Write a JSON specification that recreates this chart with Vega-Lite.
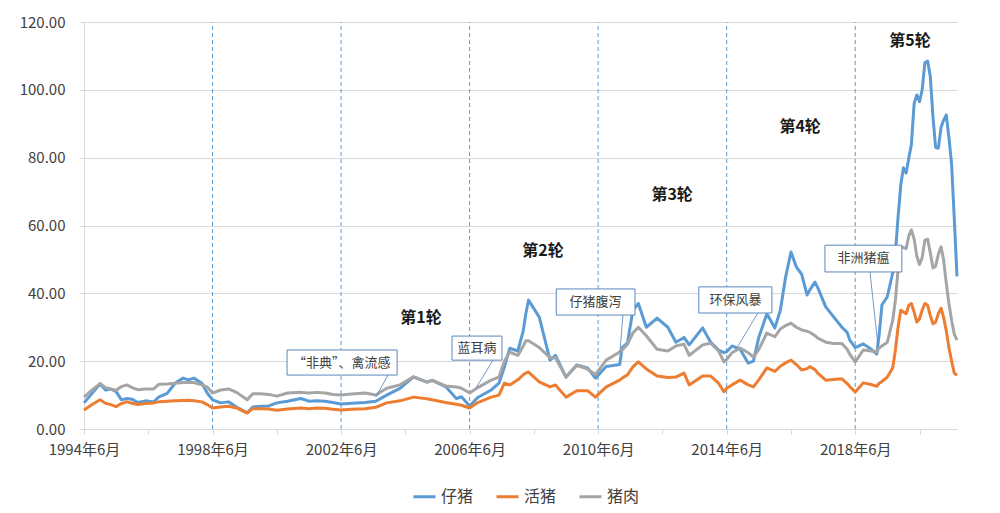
{
  "$schema": "https://vega.github.io/schema/vega-lite/v6.json",
  "width": 873,
  "height": 407,
  "autosize": "none",
  "padding": {"left": 84, "top": 22, "right": 43, "bottom": 84},
  "background": "white",
  "config": {
    "view": {"stroke": null},
    "font": "Noto Sans CJK SC",
    "axis": {"labelFont": "Noto Sans CJK SC", "labelFontSize": 15, "labelColor": "#404040", "domainColor": "#d9d9d9", "tickColor": "#d9d9d9", "gridColor": "#d9d9d9", "title": null},
    "legend": {"labelFont": "Noto Sans CJK SC"}
  },
  "encoding": {
    "x": {
      "field": "d", "type": "temporal",
      "scale": {"domain": [{"year": 1994, "month": 6, "date": 1}, {"year": 2021, "month": 8, "date": 1}]},
      "axis": {
        "grid": false, "tickSize": 5, "labelPadding": 8, "labelOverlap": false, "labelFlush": false,
        "values": [{"year": 1994, "month": 6, "date": 1}, {"year": 1996, "month": 6, "date": 1}, {"year": 1998, "month": 6, "date": 1}, {"year": 2000, "month": 6, "date": 1}, {"year": 2002, "month": 6, "date": 1}, {"year": 2004, "month": 6, "date": 1}, {"year": 2006, "month": 6, "date": 1}, {"year": 2008, "month": 6, "date": 1}, {"year": 2010, "month": 6, "date": 1}, {"year": 2012, "month": 6, "date": 1}, {"year": 2014, "month": 6, "date": 1}, {"year": 2016, "month": 6, "date": 1}, {"year": 2018, "month": 6, "date": 1}, {"year": 2020, "month": 6, "date": 1}],
        "labelExpr": "(year(datum.value) - 1994) % 4 == 0 ? timeFormat(datum.value, '%Y年%-m月') : ''"
      }
    },
    "y": {
      "field": "v", "type": "quantitative",
      "scale": {"domain": [0, 120], "nice": false},
      "axis": {"values": [0, 20, 40, 60, 80, 100, 120], "format": ".2f", "grid": true, "tickSize": 5, "labelPadding": 14}
    }
  },
  "layer": [
    {
      "data": {"values": [
        {"d": "1998-06-01", "v": 0, "v2": 120},
        {"d": "2002-06-01", "v": 0, "v2": 120},
        {"d": "2006-06-01", "v": 0, "v2": 120},
        {"d": "2010-06-01", "v": 0, "v2": 120},
        {"d": "2014-06-01", "v": 0, "v2": 120},
        {"d": "2018-06-01", "v": 0, "v2": 120}
      ], "format": {"parse": {"d": "date:'%Y-%m-%d'"}}},
      "mark": {"type": "rule", "stroke": "#5b9bd5", "strokeWidth": 1, "strokeDash": [4, 3]},
      "encoding": {"y2": {"field": "v2"}}
    },
    {
      "data": {"values": [
        {"d": "1994-06", "仔猪": 7.7, "活猪": 5.6, "猪肉": 9.4},
        {"d": "1994-09", "仔猪": 10.5, "活猪": 7.2, "猪肉": 11.5},
        {"d": "1994-12", "仔猪": 13.3, "活猪": 8.6, "猪肉": 13.4},
        {"d": "1995-02", "仔猪": 11.5, "活猪": 7.6, "猪肉": 12.2},
        {"d": "1995-04", "仔猪": 11.8, "活猪": 7.2, "猪肉": 11.8},
        {"d": "1995-06", "仔猪": 11, "活猪": 6.6, "猪肉": 11.4},
        {"d": "1995-08", "仔猪": 8.6, "活猪": 7.5, "猪肉": 12.5},
        {"d": "1995-10", "仔猪": 9, "活猪": 8, "猪肉": 13},
        {"d": "1995-12", "仔猪": 8.8, "活猪": 7.6, "猪肉": 12.2},
        {"d": "1996-02", "仔猪": 7.8, "活猪": 7.2, "猪肉": 11.6},
        {"d": "1996-05", "仔猪": 8.3, "活猪": 7.5, "猪肉": 11.8},
        {"d": "1996-08", "仔猪": 8, "活猪": 7.7, "猪肉": 11.8},
        {"d": "1996-10", "仔猪": 9.5, "活猪": 8, "猪肉": 13.2},
        {"d": "1997-01", "仔猪": 10.5, "活猪": 8.2, "猪肉": 13.3},
        {"d": "1997-04", "仔猪": 13.5, "活猪": 8.3, "猪肉": 13.5},
        {"d": "1997-07", "仔猪": 15, "活猪": 8.4, "猪肉": 13.7},
        {"d": "1997-09", "仔猪": 14.5, "活猪": 8.5, "猪肉": 13.7},
        {"d": "1997-11", "仔猪": 15, "活猪": 8.3, "猪肉": 13.7},
        {"d": "1998-02", "仔猪": 13.5, "活猪": 8, "猪肉": 13},
        {"d": "1998-04", "仔猪": 10.6, "活猪": 7.2, "猪肉": 12.4},
        {"d": "1998-06", "仔猪": 8.6, "活猪": 6.2, "猪肉": 10.6},
        {"d": "1998-09", "仔猪": 7.7, "活猪": 6.5, "猪肉": 11.5},
        {"d": "1998-12", "仔猪": 8, "活猪": 6.7, "猪肉": 11.8},
        {"d": "1999-03", "仔猪": 6.5, "活猪": 6.2, "猪肉": 10.8},
        {"d": "1999-07", "仔猪": 4.8, "活猪": 4.7, "猪肉": 8.6},
        {"d": "1999-09", "仔猪": 6.5, "活猪": 6, "猪肉": 10.4},
        {"d": "1999-12", "仔猪": 6.7, "活猪": 6, "猪肉": 10.4},
        {"d": "2000-03", "仔猪": 6.8, "活猪": 5.9, "猪肉": 10.2},
        {"d": "2000-06", "仔猪": 7.7, "活猪": 5.5, "猪肉": 9.7},
        {"d": "2000-10", "仔猪": 8.2, "活猪": 5.9, "猪肉": 10.6},
        {"d": "2001-03", "仔猪": 9, "活猪": 6.2, "猪肉": 10.8},
        {"d": "2001-06", "仔猪": 8.2, "活猪": 6, "猪肉": 10.6},
        {"d": "2001-09", "仔猪": 8.3, "活猪": 6.2, "猪肉": 10.8},
        {"d": "2001-12", "仔猪": 8.2, "活猪": 6.1, "猪肉": 10.6},
        {"d": "2002-03", "仔猪": 7.8, "活猪": 5.8, "猪肉": 10.2},
        {"d": "2002-06", "仔猪": 7.4, "活猪": 5.6, "猪肉": 10},
        {"d": "2002-10", "仔猪": 7.6, "活猪": 5.8, "猪肉": 10.3},
        {"d": "2003-03", "仔猪": 7.8, "活猪": 6, "猪肉": 10.6},
        {"d": "2003-07", "仔猪": 8.2, "活猪": 6.4, "猪肉": 10},
        {"d": "2003-11", "仔猪": 10, "活猪": 7.7, "猪肉": 12},
        {"d": "2004-04", "仔猪": 12, "活猪": 8.3, "猪肉": 13},
        {"d": "2004-09", "仔猪": 15.4, "活猪": 9.4, "猪肉": 15.4},
        {"d": "2005-02", "仔猪": 13.8, "活猪": 8.9, "猪肉": 13.8},
        {"d": "2005-04", "仔猪": 14.3, "活猪": 8.6, "猪肉": 14.4},
        {"d": "2005-09", "仔猪": 12.5, "活猪": 7.8, "猪肉": 12.7},
        {"d": "2006-01", "仔猪": 9, "活猪": 7.3, "猪肉": 12.4},
        {"d": "2006-03", "仔猪": 9.5, "活猪": 7, "猪肉": 12},
        {"d": "2006-06", "仔猪": 6.8, "活猪": 6.2, "猪肉": 10.6},
        {"d": "2006-09", "仔猪": 9.3, "活猪": 7.8, "猪肉": 12.2},
        {"d": "2007-02", "仔猪": 11.5, "活猪": 9.4, "猪肉": 14.4},
        {"d": "2007-05", "仔猪": 13.5, "活猪": 10, "猪肉": 15.3},
        {"d": "2007-07", "仔猪": 18.3, "活猪": 13.5, "猪肉": 20},
        {"d": "2007-09", "仔猪": 23.8, "活猪": 13, "猪肉": 22.7},
        {"d": "2007-12", "仔猪": 23, "活猪": 14.5, "猪肉": 21.7},
        {"d": "2008-02", "仔猪": 29, "活猪": 16, "猪肉": 24.5},
        {"d": "2008-03", "仔猪": 34, "活猪": 16.5, "猪肉": 26},
        {"d": "2008-04", "仔猪": 38, "活猪": 16.8, "猪肉": 26},
        {"d": "2008-08", "仔猪": 33, "活猪": 13.9, "猪肉": 24},
        {"d": "2008-12", "仔猪": 20.3, "活猪": 12.4, "猪肉": 21},
        {"d": "2009-02", "仔猪": 21.7, "活猪": 13, "猪肉": 21},
        {"d": "2009-06", "仔猪": 15.3, "活猪": 9.4, "猪肉": 15.3},
        {"d": "2009-10", "仔猪": 18.9, "活猪": 11.3, "猪肉": 18.8},
        {"d": "2010-02", "仔猪": 18, "活猪": 11.3, "猪肉": 17.7},
        {"d": "2010-05", "仔猪": 15, "活猪": 9.4, "猪肉": 16},
        {"d": "2010-09", "仔猪": 18.4, "活猪": 12.4, "猪肉": 20.3},
        {"d": "2011-02", "仔猪": 19, "活猪": 14.4, "猪肉": 22.7},
        {"d": "2011-03", "仔猪": 24, "活猪": 15, "猪肉": 23.3},
        {"d": "2011-05", "仔猪": 25.4, "活猪": 16, "猪肉": 25},
        {"d": "2011-07", "仔猪": 35, "活猪": 18.3, "猪肉": 28.3},
        {"d": "2011-09", "仔猪": 37, "活猪": 19.8, "猪肉": 30},
        {"d": "2011-12", "仔猪": 30, "活猪": 17.7, "猪肉": 27.5},
        {"d": "2012-04", "仔猪": 32.7, "活猪": 15.6, "猪肉": 23.5},
        {"d": "2012-08", "仔猪": 30, "活猪": 15.2, "猪肉": 23},
        {"d": "2012-11", "仔猪": 25.6, "活猪": 15.3, "猪肉": 24.5},
        {"d": "2013-02", "仔猪": 27, "活猪": 16.5, "猪肉": 25},
        {"d": "2013-04", "仔猪": 24.8, "活猪": 13, "猪肉": 21.7},
        {"d": "2013-09", "仔猪": 29.8, "活猪": 15.6, "猪肉": 24.8},
        {"d": "2013-12", "仔猪": 25.6, "活猪": 15.6, "猪肉": 25.3},
        {"d": "2014-03", "仔猪": 23.3, "活猪": 13.5, "猪肉": 23},
        {"d": "2014-05", "仔猪": 22.5, "活猪": 11, "猪肉": 19.8},
        {"d": "2014-06", "仔猪": 22.8, "活猪": 12, "猪肉": 20.5},
        {"d": "2014-08", "仔猪": 24.5, "活猪": 13, "猪肉": 22.5},
        {"d": "2014-11", "仔猪": 23.5, "活猪": 14.4, "猪肉": 23.9},
        {"d": "2015-02", "仔猪": 19.4, "活猪": 13, "猪肉": 22.5},
        {"d": "2015-04", "仔猪": 20, "活猪": 12.4, "猪肉": 21.2},
        {"d": "2015-06", "仔猪": 27, "活猪": 14.5, "猪肉": 23.5},
        {"d": "2015-09", "仔猪": 34, "活猪": 18, "猪肉": 28.3},
        {"d": "2015-12", "仔猪": 29.8, "活猪": 17, "猪肉": 27.2},
        {"d": "2016-02", "仔猪": 35, "活猪": 18.5, "猪肉": 29.5},
        {"d": "2016-04", "仔猪": 44.8, "活猪": 19.5, "猪肉": 30.5},
        {"d": "2016-06", "仔猪": 52.2, "活猪": 20.3, "猪肉": 31.2},
        {"d": "2016-08", "仔猪": 47.8, "活猪": 19, "猪肉": 30},
        {"d": "2016-10", "仔猪": 45.6, "活猪": 17.4, "猪肉": 29.2},
        {"d": "2016-12", "仔猪": 39.5, "活猪": 17.8, "猪肉": 28.8},
        {"d": "2017-01", "仔猪": 41, "活猪": 18.4, "猪肉": 28.5},
        {"d": "2017-03", "仔猪": 43.3, "活猪": 17.5, "猪肉": 27.5},
        {"d": "2017-04", "仔猪": 41.7, "活猪": 16.5, "猪肉": 26.8},
        {"d": "2017-07", "仔猪": 36, "活猪": 14.4, "猪肉": 25.6},
        {"d": "2017-10", "仔猪": 33, "活猪": 14.6, "猪肉": 25.2},
        {"d": "2018-01", "仔猪": 30, "活猪": 14.8, "猪肉": 25.2},
        {"d": "2018-03", "仔猪": 28.5, "活猪": 13.4, "猪肉": 23.5},
        {"d": "2018-04", "仔猪": 26.2, "活猪": 12.5, "猪肉": 22},
        {"d": "2018-06", "仔猪": 24, "活猪": 10.9, "猪肉": 19.8},
        {"d": "2018-09", "仔猪": 25.1, "活猪": 13.6, "猪肉": 23.3},
        {"d": "2018-12", "仔猪": 23.5, "活猪": 13.1, "猪肉": 23},
        {"d": "2019-02", "仔猪": 22.1, "活猪": 12.6, "猪肉": 22.8},
        {"d": "2019-03", "仔猪": 28, "活猪": 13.5, "猪肉": 23.9},
        {"d": "2019-04", "仔猪": 36.6, "活猪": 14, "猪肉": 24.5},
        {"d": "2019-06", "仔猪": 39, "活猪": 15.3, "猪肉": 25.6},
        {"d": "2019-08", "仔猪": 46, "活猪": 18, "猪肉": 32},
        {"d": "2019-09", "仔猪": 52, "活猪": 23.3, "猪肉": 38},
        {"d": "2019-10", "仔猪": 62.5, "活猪": 30, "猪肉": 47},
        {"d": "2019-11", "仔猪": 72, "活猪": 35, "猪肉": 53.7},
        {"d": "2019-12", "仔猪": 77, "活猪": 34.5, "猪肉": 53.5},
        {"d": "2020-01", "仔猪": 75.5, "活猪": 34, "猪肉": 53.2},
        {"d": "2020-02", "仔猪": 80, "活猪": 36.5, "猪肉": 57},
        {"d": "2020-03", "仔猪": 84, "活猪": 37, "猪肉": 58.7},
        {"d": "2020-04", "仔猪": 96, "活猪": 34.5, "猪肉": 56},
        {"d": "2020-05", "仔猪": 98.5, "活猪": 31.5, "猪肉": 51},
        {"d": "2020-06", "仔猪": 96.5, "活猪": 32.5, "猪肉": 48.5},
        {"d": "2020-07", "仔猪": 100, "活猪": 35, "猪肉": 50.5},
        {"d": "2020-08", "仔猪": 108, "活猪": 37, "猪肉": 55.7},
        {"d": "2020-09", "仔猪": 108.5, "活猪": 36.5, "猪肉": 56},
        {"d": "2020-10", "仔猪": 104, "活猪": 33.5, "猪肉": 52},
        {"d": "2020-11", "仔猪": 92, "活猪": 31, "猪肉": 47.5},
        {"d": "2020-12", "仔猪": 83, "活猪": 31.5, "猪肉": 48},
        {"d": "2021-01", "仔猪": 82.8, "活猪": 34, "猪肉": 51.5},
        {"d": "2021-02", "仔猪": 89, "活猪": 35.6, "猪肉": 53.7},
        {"d": "2021-03", "仔猪": 91, "活猪": 33, "猪肉": 50},
        {"d": "2021-04", "仔猪": 92.6, "活猪": 29, "猪肉": 43},
        {"d": "2021-05", "仔猪": 86, "活猪": 24, "猪肉": 37},
        {"d": "2021-06", "仔猪": 78, "活猪": 20, "猪肉": 32},
        {"d": "2021-07", "仔猪": 62, "活猪": 16.5, "猪肉": 28},
        {"d": "2021-08", "仔猪": 45, "活猪": 15.8, "猪肉": 26.2}
      ], "format": {"parse": {"d": "date:'%Y-%m'"}}},
      "transform": [{"fold": ["仔猪", "活猪", "猪肉"], "as": ["s", "v"]}],
      "mark": {"type": "line", "strokeWidth": 3, "strokeJoin": "round"},
      "encoding": {
        "color": {
          "field": "s", "type": "nominal",
          "scale": {"domain": ["仔猪", "活猪", "猪肉"], "range": ["#5b9bd5", "#ed7d31", "#a5a5a5"]},
          "legend": {"title": null, "orient": "none", "legendX": 328, "legendY": 462, "direction": "horizontal", "symbolType": "stroke", "symbolStrokeWidth": 3, "symbolSize": 484, "labelFontSize": 16, "labelColor": "#404040", "columnPadding": 16, "labelOffset": 4}
        }
      }
    },
    {
      "data": {"values": [
        {"d": "2003-11-16", "d2": "2003-07-01", "v": 15.9, "v2": 9.4},
        {"d": "2007-02-22", "d2": "2006-08-13", "v": 20.3, "v2": 12.1},
        {"d": "2011-03-10", "d2": "2011-02-04", "v": 33.6, "v2": 22.7},
        {"d": "2015-05-22", "d2": "2014-09-25", "v": 34.2, "v2": 23.9},
        {"d": "2018-11-16", "d2": "2019-02-16", "v": 46.3, "v2": 24.2}
      ], "format": {"parse": {"d": "date:'%Y-%m-%d'", "d2": "date:'%Y-%m-%d'"}}},
      "mark": {"type": "rule", "stroke": "#4f81bd", "strokeWidth": 0.8},
      "encoding": {"x2": {"field": "d2"}, "y2": {"field": "v2"}}
    },
    {
      "data": {"values": [
        {"d": "2000-09-25", "d2": "2004-02-28", "v": 23.3, "v2": 15.9},
        {"d": "2005-11-13", "d2": "2007-06-04", "v": 27.4, "v2": 20.3},
        {"d": "2009-02-10", "d2": "2011-07-25", "v": 41.3, "v2": 33.6},
        {"d": "2013-07-19", "d2": "2015-10-28", "v": 41.9, "v2": 34.2},
        {"d": "2017-06-22", "d2": "2019-11-13", "v": 54.2, "v2": 46.3}
      ], "format": {"parse": {"d": "date:'%Y-%m-%d'", "d2": "date:'%Y-%m-%d'"}}},
      "mark": {"type": "rect", "fill": "white", "stroke": "#5b87bd", "strokeWidth": 1},
      "encoding": {"x2": {"field": "d2"}, "y2": {"field": "v2"}}
    },
    {
      "data": {"values": [
        {"d": "2002-06-10", "v": 19.6, "t": "“非典”、禽流感"},
        {"d": "2006-08-25", "v": 23.9, "t": "蓝耳病"},
        {"d": "2010-05-01", "v": 37.4, "t": "仔猪腹泻"},
        {"d": "2014-09-10", "v": 38, "t": "环保风暴"},
        {"d": "2018-09-04", "v": 50.3, "t": "非洲猪瘟"}
      ], "format": {"parse": {"d": "date:'%Y-%m-%d'"}}},
      "mark": {"type": "text", "align": "center", "baseline": "middle", "fontSize": 13, "color": "#404040", "font": "Noto Sans CJK SC"},
      "encoding": {"text": {"field": "t"}}
    },
    {
      "data": {"values": [
        {"d": "2004-11-25", "v": 32.7, "t": "第1轮"},
        {"d": "2008-09-13", "v": 52.5, "t": "第2轮"},
        {"d": "2012-09-19", "v": 69, "t": "第3轮"},
        {"d": "2016-09-13", "v": 89, "t": "第4轮"},
        {"d": "2020-02-13", "v": 114.4, "t": "第5轮"}
      ], "format": {"parse": {"d": "date:'%Y-%m-%d'"}}},
      "mark": {"type": "text", "align": "center", "baseline": "middle", "fontSize": 16, "fontWeight": "bold", "color": "#1a1a1a", "font": "Noto Sans CJK SC"},
      "encoding": {"text": {"field": "t"}}
    }
  ]
}
